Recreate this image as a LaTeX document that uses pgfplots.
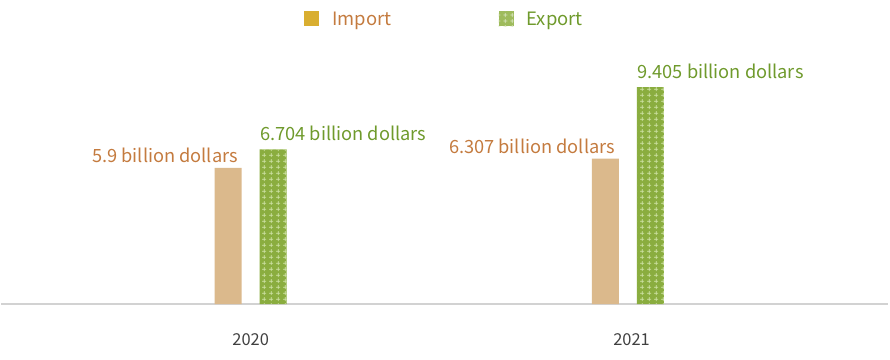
\documentclass[border=0pt]{standalone}
\usepackage{fontspec}
\setmainfont{Noto Sans CJK KR}
\usepackage{pgfplots}
\pgfplotsset{compat=1.18}
\usetikzlibrary{patterns.meta}
\definecolor{importbar}{HTML}{DBB98C}
\definecolor{importsq}{HTML}{D9AE30}
\definecolor{importtext}{HTML}{C47B3F}
\definecolor{exportbar}{HTML}{8AAD3F}
\definecolor{exportsq}{HTML}{9EBB5C}
\definecolor{plusc}{HTML}{CFE2A6}
\definecolor{exporttext}{HTML}{6F9A2C}
\definecolor{axisgray}{HTML}{D2D2D2}
\definecolor{tickgray}{HTML}{404040}
\tikzdeclarepattern{
  name=plusgrid,
  type=uncolored,
  bounding box={(0bp,0bp) and (6.7bp,5.8bp)},
  tile size={(6.7bp,5.8bp)},
  code={
    \draw[line width=0.75bp] (1.3bp,2.9bp) -- (5.4bp,2.9bp) (3.35bp,0.85bp) -- (3.35bp,4.95bp);
  }
}
\begin{document}
\begin{tikzpicture}
\path[use as bounding box] (0bp,-56bp) rectangle (890bp,304bp);
\begin{axis}[
  at={(1bp,0bp)}, anchor=south west,
  scale only axis, width=887bp, height=264bp,
  xmin=-0.662, xmax=1.690, ymin=0, ymax=11.45,
  clip=false,
  axis y line=none, axis x line*=bottom,
  x axis line style={-, draw=axisgray, line width=1.3bp},
  xtick={0,1.01}, xticklabels={2020,2021},
  major tick length=0pt,
  xticklabel style={font=\fontsize{16.5}{19}\selectfont, text=tickgray, anchor=center, yshift=-36bp},
  ybar, bar width=27bp,
  legend columns=2,
  legend style={draw=none, fill=none, at={(0.5,1)}, anchor=center, yshift=21bp,
    font=\fontsize{18.5}{22}\selectfont,
    /tikz/every even column/.append style={column sep=105bp}},
]
\addplot[forget plot, draw=none, fill=importbar, bar shift=-22.5bp,
  nodes near coords, point meta=explicit symbolic,
  nodes near coords style={anchor=base east, inner sep=0pt, xshift=10bp, yshift=5bp,
    text=importtext, font=\fontsize{18.3}{22}\selectfont}]
  coordinates {(0,5.9)[5.9 billion dollars] (1,6.307)[6.307 billion dollars]};
\addplot[forget plot, draw=none, fill=exportbar, bar shift=22.5bp,
  postaction={pattern=plusgrid, pattern color=plusc},
  nodes near coords, point meta=explicit symbolic,
  nodes near coords style={anchor=base west, inner sep=0pt, xshift=-13bp, yshift=9bp,
    text=exporttext, font=\fontsize{18.3}{22}\selectfont}]
  coordinates {(0,6.704)[6.704 billion dollars] (1,9.405)[9.405 billion dollars]};
\addlegendimage{legend image code/.code={\fill[importsq, draw=none] (0bp,-7.5bp) rectangle (15bp,7.5bp); \path (26bp,0bp);}}
\addlegendentry{\textcolor{importtext}{Import}}
\addlegendimage{legend image code/.code={\fill[exportsq, draw=none] (0bp,-7.5bp) rectangle (15bp,7.5bp);
  \fill[pattern=plusgrid, pattern color=white!60!exportsq, draw=none] (0bp,-7.5bp) rectangle (15bp,7.5bp); \path (26bp,0bp);}}
\addlegendentry{\textcolor{exporttext}{Export}}
\end{axis}
\end{tikzpicture}
\end{document}
